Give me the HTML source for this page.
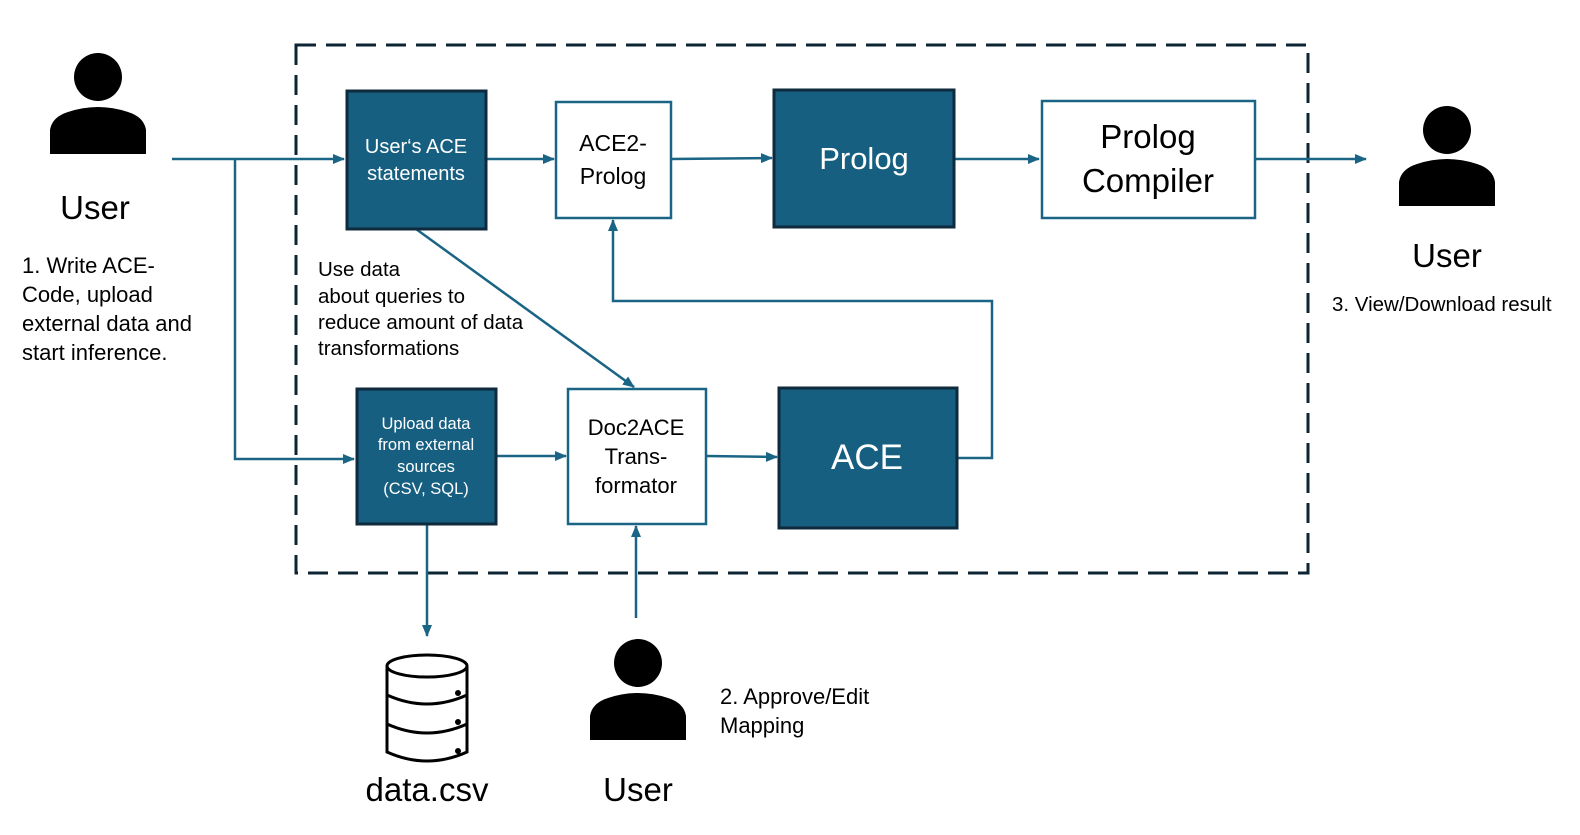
<!DOCTYPE html>
<html><head><meta charset="utf-8"><style>
html,body{margin:0;padding:0;background:#fff;}
svg{display:block;font-family:"Liberation Sans","DejaVu Sans",sans-serif;}
</style></head><body>
<svg width="1580" height="835" viewBox="0 0 1580 835" xmlns="http://www.w3.org/2000/svg">
<defs>
<marker id="a" markerWidth="12" markerHeight="10" refX="11" refY="5" orient="auto" markerUnits="userSpaceOnUse">
<path d="M0,0 L12,5 L0,10 Z" fill="#1a6585"/></marker>
</defs>
<rect x="296" y="45" width="1012" height="528" fill="none" stroke="#0d2433" stroke-width="3" stroke-dasharray="20,10"/>

<g stroke="#1a6585" stroke-width="2.5" fill="none">
<path d="M172,159 H344" marker-end="url(#a)"/>
<path d="M235,159 V459 H354" marker-end="url(#a)"/>
<path d="M486,159 H554" marker-end="url(#a)"/>
<path d="M671,159 L772,158" marker-end="url(#a)"/>
<path d="M954,159 H1039" marker-end="url(#a)"/>
<path d="M1255,159 H1366" marker-end="url(#a)"/>
<path d="M416,229 L634,387" marker-end="url(#a)"/>
<path d="M496,456 H566" marker-end="url(#a)"/>
<path d="M706,456 L777,457" marker-end="url(#a)"/>
<path d="M957,458 H992 V301 H613 V220" marker-end="url(#a)"/>
<path d="M427,524 V636" marker-end="url(#a)"/>
<path d="M636,618 V526" marker-end="url(#a)"/>
</g>

<g stroke="#0e2a3c" stroke-width="3" fill="#175f81">
<rect x="347" y="91" width="139" height="138"/>
<rect x="774" y="90" width="180" height="137"/>
<rect x="357" y="389" width="139" height="135"/>
<rect x="779" y="388" width="178" height="140"/>
</g>
<g stroke="#1a6585" stroke-width="2.5" fill="#fff">
<rect x="556" y="102" width="115" height="116"/>
<rect x="1042" y="101" width="213" height="117"/>
<rect x="568" y="389" width="138" height="135"/>
</g>

<g fill="#fff" text-anchor="middle">
<text x="416" y="153" font-size="20">User‘s ACE</text>
<text x="416" y="180" font-size="20">statements</text>
<text x="864" y="169" font-size="31">Prolog</text>
<text x="426" y="429" font-size="16.5">Upload data</text>
<text x="426" y="450" font-size="16.5">from external</text>
<text x="426" y="472" font-size="16.5">sources</text>
<text x="426" y="494" font-size="16.5">(CSV, SQL)</text>
<text x="867" y="469" font-size="35">ACE</text>
</g>
<g fill="#000" text-anchor="middle">
<text x="613" y="151" font-size="23">ACE2-</text>
<text x="613" y="184" font-size="23">Prolog</text>
<text x="1148" y="148" font-size="33">Prolog</text>
<text x="1148" y="192" font-size="33">Compiler</text>
<text x="636" y="435" font-size="22">Doc2ACE</text>
<text x="636" y="464" font-size="22">Trans-</text>
<text x="636" y="493" font-size="22">formator</text>
<text x="95" y="219" font-size="33">User</text>
<text x="1447" y="267" font-size="33">User</text>
<text x="427" y="801" font-size="33">data.csv</text>
<text x="638" y="801" font-size="33">User</text>
</g>
<g fill="#000" font-size="22">
<text x="22" y="273">1. Write ACE-</text>
<text x="22" y="302">Code, upload</text>
<text x="22" y="331">external data and</text>
<text x="22" y="360">start inference.</text>
<text x="1332" y="311" font-size="20.5">3. View/Download result</text>
<text x="720" y="704">2. Approve/Edit</text>
<text x="720" y="733">Mapping</text>
<text x="318" y="276" font-size="20.5">Use data</text>
<text x="318" y="303" font-size="20.5">about queries to</text>
<text x="318" y="329" font-size="20.5">reduce amount of data</text>
<text x="318" y="355" font-size="20.5">transformations</text>
</g>

<g fill="#000">
<circle cx="98" cy="77" r="24"/>
<path d="M50,154 V130 Q52,117 68,112 Q98,102 128,112 Q144,117 146,130 V154 Z"/>
<circle cx="1447" cy="130" r="24"/>
<path d="M1399,206 V182 Q1401,169 1417,164 Q1447,154 1477,164 Q1493,169 1495,182 V206 Z"/>
<circle cx="638" cy="663" r="24"/>
<path d="M590,740 V716 Q592,703 608,698 Q638,688 668,698 Q684,703 686,716 V740 Z"/>
</g>
<g stroke="#000" stroke-width="3" fill="none">
<ellipse cx="427" cy="666" rx="40" ry="11"/>
<path d="M387,666 V752 Q427,770 467,752 V666"/>
<path d="M387,695 Q427,713 467,695"/>
<path d="M387,724 Q427,742 467,724"/>
</g>
<g fill="#000">
<circle cx="458" cy="693" r="3"/><circle cx="458" cy="722" r="3"/><circle cx="458" cy="751" r="3"/>
</g>
</svg>
</body></html>
